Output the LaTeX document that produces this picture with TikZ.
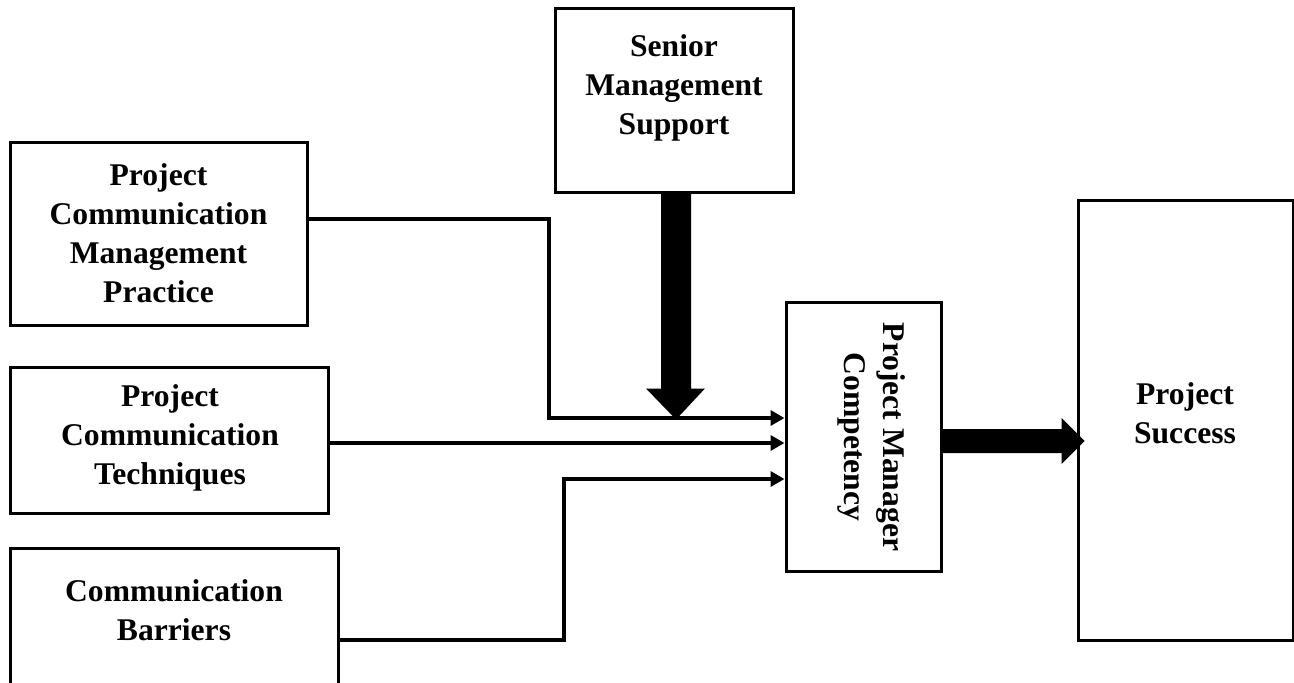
\documentclass[tikz,border=0pt]{standalone}
\usepackage{fontspec}
\setmainfont{Liberation Serif}
\usetikzlibrary{arrows.meta}
\begin{document}
\begin{tikzpicture}[x=1pt,y=-1pt,
  box/.style={draw,line width=3pt,inner sep=0pt},
  txt/.style={font=\fontsize{31.6}{39}\selectfont\bfseries,align=center,inner sep=0pt},
  conn/.style={line width=4pt,-{Triangle[length=14pt,width=15pt]}},
  thick arrow/.style={fill=black}]
\useasboundingbox (0,0) rectangle (1294,683);
% boxes
\node[box,minimum width=238pt,minimum height=184pt] (sms) at (674,100) {};
\node[box,minimum width=297pt,minimum height=183pt] (pcmp) at (158.5,233.5) {};
\node[box,minimum width=318pt,minimum height=146pt] (pct) at (169,440) {};
\node[box,minimum width=328pt,minimum height=142pt] (cb) at (174,619) {};
\node[box,minimum width=155pt,minimum height=269pt] (pmc) at (863.5,436.5) {};
\node[box,minimum width=215pt,minimum height=440pt] (ps) at (1185.5,420) {};
% texts
\node[txt] (tsms) at (674,88) {Senior\\Management\\Support};
\node[txt] (tpcmp) at (158.5,233) {Project\\Communication\\Management\\Practice};
\node[txt] (tpct) at (170,438) {Project\\Communication\\Techniques};
\node[txt] (tcb) at (174,610) {Communication\\Barriers};
\node[txt,rotate=-90] (tpmc) at (872,437) {Project Manager\\Competency};
\node[txt] (tps) at (1185,413) {Project\\Success};
% thin connectors
\draw[conn] ([yshift=14.5pt]pcmp.east) -- ++(240pt,0) |- ([yshift=18.5pt]pmc.west);
\draw[conn] ([yshift=-3pt]pct.east) -- ([yshift=-6.5pt]pmc.west);
\draw[conn] ([yshift=-21pt]cb.east) -- ++(224pt,0) |- ([yshift=-42.5pt]pmc.west);
% thick arrows
\fill[thick arrow] ([xshift=-13pt]sms.south) -- ++(0,-195pt) -- ++(-15pt,0) -- ++(30pt,-31pt)
  -- ++(29pt,31pt) -- ++(-14pt,0) -- ++(0,195pt) -- cycle;
\fill[thick arrow] ([yshift=7.5pt]pmc.east) -- ++(119pt,0) -- ++(0,11pt) -- ++(23pt,-23pt)
  -- ++(-23pt,-23pt) -- ++(0,11pt) -- ++(-119pt,0) -- cycle;
\end{tikzpicture}
\end{document}
